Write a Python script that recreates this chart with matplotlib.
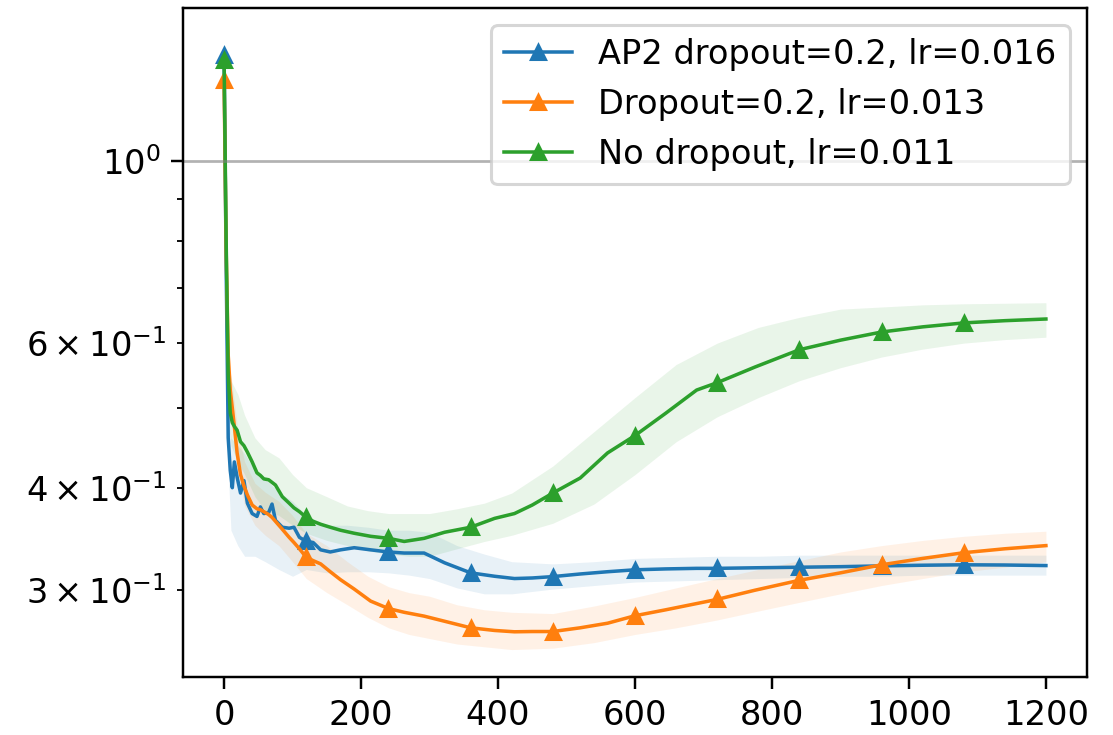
import numpy as np
import matplotlib
matplotlib.use("Agg")
import matplotlib.pyplot as plt

# training steps (line samples) and loss curves
steps = [0, 3, 6, 9, 12, 15, 19, 24, 29, 34, 41, 48, 53, 58, 65, 70, 75, 85, 95, 102,
         110, 120, 130, 141, 155, 170, 190, 214, 240, 263, 292, 322, 360, 395, 424, 450,
         480, 520, 560, 600, 645, 690, 720, 775, 840, 900, 960, 1020, 1080, 1140, 1200]

ap2 = [1.346, 0.75, 0.46, 0.42, 0.40, 0.43, 0.412, 0.394, 0.408, 0.383, 0.372, 0.369,
       0.379, 0.372, 0.373, 0.382, 0.365, 0.358, 0.357, 0.358, 0.348, 0.344, 0.343,
       0.336, 0.334, 0.336, 0.338, 0.336, 0.334, 0.333, 0.333, 0.324, 0.315, 0.312,
       0.310, 0.3105, 0.3117, 0.314, 0.316, 0.3177, 0.3185, 0.319, 0.319, 0.3195,
       0.320, 0.3205, 0.3212, 0.3218, 0.3222, 0.322, 0.3215]

drop = [1.255, 0.78, 0.58, 0.526, 0.50, 0.475, 0.441, 0.415, 0.402, 0.392, 0.381,
        0.377, 0.376, 0.374, 0.371, 0.368, 0.364, 0.356, 0.348, 0.343, 0.337, 0.329,
        0.326, 0.323, 0.316, 0.309, 0.301, 0.291, 0.285, 0.282, 0.279, 0.275, 0.270,
        0.268, 0.267, 0.2672, 0.2672, 0.270, 0.2735, 0.2793, 0.284, 0.289, 0.2924,
        0.300, 0.3085, 0.315, 0.3222, 0.328, 0.3333, 0.337, 0.340]

nodrop = [1.327, 0.80, 0.55, 0.493, 0.48, 0.475, 0.47, 0.455, 0.45, 0.442, 0.43, 0.417,
          0.414, 0.41, 0.409, 0.406, 0.403, 0.39, 0.383, 0.378, 0.374, 0.368, 0.364,
          0.361, 0.358, 0.355, 0.352, 0.349, 0.347, 0.344, 0.347, 0.353, 0.358, 0.367,
          0.372, 0.381, 0.394, 0.411, 0.441, 0.463, 0.493, 0.526, 0.537, 0.561, 0.589,
          0.605, 0.619, 0.628, 0.635, 0.639, 0.642]

# shaded spread (lower / upper) on a coarser grid
band_steps = [0, 3, 6, 10, 20, 30, 45, 60, 80, 100, 120, 150, 180, 210, 240, 270, 300,
              340, 380, 420, 480, 540, 600, 660, 720, 780, 840, 900, 960, 1020, 1080,
              1140, 1200]

ap2_lo = [1.33, 0.70, 0.42, 0.355, 0.34, 0.33, 0.33, 0.325, 0.318, 0.312, 0.318, 0.315,
          0.316, 0.316, 0.315, 0.313, 0.31, 0.302, 0.297, 0.297, 0.301, 0.304, 0.307,
          0.308, 0.309, 0.31, 0.311, 0.312, 0.312, 0.313, 0.313, 0.313, 0.313]
ap2_hi = [1.36, 0.78, 0.50, 0.46, 0.45, 0.44, 0.42, 0.41, 0.395, 0.385, 0.37, 0.36,
          0.36, 0.358, 0.355, 0.355, 0.353, 0.34, 0.332, 0.325, 0.323, 0.325, 0.328,
          0.329, 0.33, 0.33, 0.331, 0.331, 0.331, 0.331, 0.331, 0.331, 0.331]

drop_lo = [1.24, 0.74, 0.55, 0.49, 0.42, 0.38, 0.36, 0.35, 0.34, 0.325, 0.31, 0.298,
           0.288, 0.278, 0.27, 0.265, 0.262, 0.258, 0.256, 0.254, 0.255, 0.259, 0.265,
           0.270, 0.276, 0.283, 0.29, 0.297, 0.304, 0.31, 0.316, 0.32, 0.325]
drop_hi = [1.27, 0.82, 0.61, 0.55, 0.47, 0.43, 0.405, 0.395, 0.385, 0.37, 0.352, 0.34,
           0.325, 0.312, 0.303, 0.298, 0.295, 0.288, 0.284, 0.282, 0.281, 0.287, 0.294,
           0.302, 0.310, 0.318, 0.326, 0.334, 0.340, 0.345, 0.349, 0.352, 0.354]

nodrop_lo = [1.31, 0.75, 0.51, 0.45, 0.43, 0.415, 0.39, 0.375, 0.37, 0.36, 0.352, 0.345,
             0.34, 0.335, 0.332, 0.33, 0.33, 0.337, 0.344, 0.35, 0.362, 0.382, 0.415,
             0.455, 0.488, 0.515, 0.54, 0.56, 0.577, 0.59, 0.60, 0.606, 0.61]
nodrop_hi = [1.34, 0.85, 0.59, 0.54, 0.52, 0.49, 0.46, 0.445, 0.435, 0.415, 0.40, 0.39,
             0.38, 0.375, 0.372, 0.372, 0.372, 0.377, 0.383, 0.394, 0.425, 0.468, 0.515,
             0.565, 0.60, 0.627, 0.645, 0.66, 0.664, 0.668, 0.67, 0.671, 0.672]

labels = ["AP2 dropout=0.2, lr=0.016", "Dropout=0.2, lr=0.013", "No dropout, lr=0.011"]

dpi = 220
fs = 11
fig = plt.figure(figsize=(1113 / dpi, 735 / dpi), dpi=dpi)
ax = fig.add_axes([183 / 1113, 1 - 677 / 735, (1087 - 183) / 1113, (677 - 8) / 735])

# markers every 120 steps
mark = [i for i, s in enumerate(steps) if s % 120 == 0 and s < 1200]

series = [(ap2, ap2_lo, ap2_hi), (drop, drop_lo, drop_hi), (nodrop, nodrop_lo, nodrop_hi)]
for (y, lo, hi), lab in zip(series, labels):
    line, = ax.plot(steps, y, marker='^', markevery=mark, label=lab,
                    linewidth=1.15, markersize=4.8, markeredgewidth=1.0)
    ax.fill_between(band_steps, lo, hi, color=line.get_color(), alpha=0.1, linewidth=0)

ax.axhline(1.0, color='gray', alpha=0.6, linewidth=0.9)
ax.set_yscale('log')
ax.set_ylim(0.2352, 1.536)
ax.set_xlim(-60, 1260)
ax.tick_params(which='both', labelsize=fs)
ax.tick_params(which='major', length=3.8)
ax.legend(loc='upper right', fontsize=fs)

fig.savefig("out.png", dpi=dpi)
